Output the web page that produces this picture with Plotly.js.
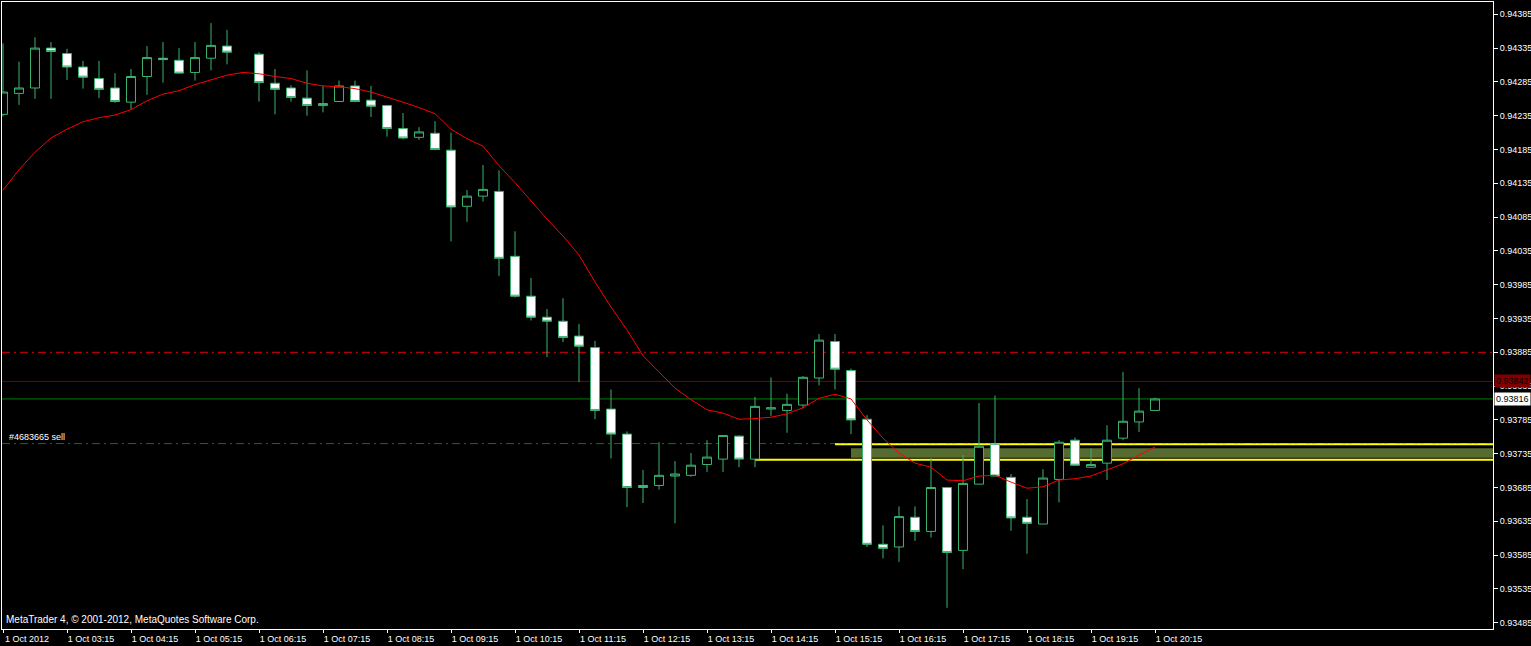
<!DOCTYPE html>
<html><head><meta charset="utf-8">
<script src="https://cdn.plot.ly/plotly-3.0.1.min.js"></script>
<style>html,body{margin:0;padding:0;background:#000;overflow:hidden}#chart{width:1531px;height:646px}</style>
</head><body><div id="chart"></div>
<script>
// ---- M15 bars, 1 Oct 2012 02:15 .. 20:15 (bar index 0..72); bar 15 not drawn ----
const openPrice = [0.94237,0.94268,0.94276,0.94335,0.94327,0.94307,0.94290,0.94276,0.94255,0.94293,
0.94320,0.94317,0.94299,0.94320,0.94338,null,0.94326,0.94283,0.94276,0.94261,
0.94250,0.94256,0.94279,0.94258,0.94250,0.94216,0.94203,0.94209,0.94184,0.94101,
0.94116,0.94123,0.94027,0.93968,0.93937,0.93931,0.93909,0.93892,0.93801,0.93764,
0.93688,0.93688,0.93702,0.93703,0.93719,0.93727,0.93761,0.93727,0.93801,0.93799,
0.93807,0.93847,0.93901,0.93858,0.93786,0.93601,0.93597,0.93641,0.93620,0.93685,
0.93592,0.93690,0.93749,0.93700,0.93641,0.93631,0.93697,0.93755,0.93715,0.93721,
0.93758,0.93782,0.93799];
const highPrice = [0.94342,0.94315,0.94351,0.94344,0.94334,0.94316,0.94316,0.94298,0.94304,0.94338,
0.94344,0.94335,0.94344,0.94372,0.94362,null,0.94329,0.94304,0.94280,0.94302,
0.94279,0.94287,0.94287,0.94279,0.94251,0.94239,0.94218,0.94227,0.94210,0.94125,
0.94162,0.94154,0.94064,0.93995,0.93949,0.93965,0.93927,0.93902,0.93830,0.93768,
0.93711,0.93752,0.93724,0.93736,0.93755,0.93762,0.93762,0.93819,0.93848,0.93824,
0.93850,0.93912,0.93912,0.93861,0.93792,0.93629,0.93657,0.93657,0.93729,0.93686,
0.93733,0.93810,0.93821,0.93705,0.93668,0.93712,0.93755,0.93759,0.93743,0.93777,
0.93856,0.93832,0.93818];
const lowPrice = [0.94234,0.94251,0.94260,0.94260,0.94288,0.94275,0.94261,0.94254,0.94245,0.94266,
0.94284,0.94297,0.94287,0.94302,0.94311,null,0.94256,0.94237,0.94256,0.94235,
0.94240,0.94256,0.94255,0.94233,0.94204,0.94200,0.94199,0.94184,0.94049,0.94078,
0.94108,0.93998,0.93966,0.93932,0.93878,0.93900,0.93841,0.93786,0.93728,0.93656,
0.93662,0.93682,0.93632,0.93701,0.93708,0.93708,0.93715,0.93715,0.93791,0.93766,
0.93802,0.93836,0.93830,0.93764,0.93597,0.93580,0.93575,0.93606,0.93611,0.93507,
0.93564,0.93690,0.93702,0.93621,0.93587,0.93631,0.93663,0.93718,0.93715,0.93696,
0.93755,0.93767,0.93799];
const closePrice = [0.94270,0.94276,0.94335,0.94330,0.94307,0.94292,0.94274,0.94256,0.94293,0.94321,
0.94318,0.94298,0.94321,0.94339,0.94329,null,0.94284,0.94274,0.94262,0.94250,
0.94253,0.94279,0.94256,0.94249,0.94216,0.94202,0.94211,0.94185,0.94100,0.94116,
0.94126,0.94024,0.93968,0.93937,0.93931,0.93907,0.93894,0.93799,0.93764,0.93685,
0.93685,0.93703,0.93705,0.93718,0.93730,0.93762,0.93727,0.93805,0.93803,0.93808,
0.93848,0.93903,0.93860,0.93785,0.93601,0.93595,0.93642,0.93620,0.93685,0.93589,
0.93691,0.93746,0.93702,0.93640,0.93632,0.93699,0.93752,0.93718,0.93719,0.93755,
0.93783,0.93798,0.93816];
// moving average (red line), one value per bar
const maValues = [0.94125,0.94155,0.94181,0.94202,0.94215,0.94226,0.94232,0.94236,0.94244,0.94257,
0.94267,0.94272,0.94281,0.94288,0.94295,0.94299,0.94297,0.94293,0.94290,0.94283,
0.94279,0.94278,0.94275,0.94270,0.94263,0.94255,0.94247,0.94238,0.94215,0.94201,
0.94190,0.94161,0.94136,0.94109,0.94082,0.94057,0.94029,0.93989,0.93952,0.93918,
0.93880,0.93856,0.93832,0.93815,0.93800,0.93795,0.93786,0.93787,0.93789,0.93794,
0.93803,0.93817,0.93823,0.93816,0.93785,0.93758,0.93736,0.93721,0.93715,0.93696,
0.93695,0.93702,0.93703,0.93693,0.93684,0.93686,0.93696,0.93698,0.93702,0.93711,
0.93720,0.93733,0.93745];
// time axis labels (every 4th bar)
const tickBars = [0,4,8,12,16,20,24,28,32,36,40,44,48,52,56,60,64,68,72];
const tickLabels = ['1 Oct 2012','1 Oct 03:15','1 Oct 04:15','1 Oct 05:15','1 Oct 06:15','1 Oct 07:15',
'1 Oct 08:15','1 Oct 09:15','1 Oct 10:15','1 Oct 11:15','1 Oct 12:15','1 Oct 13:15','1 Oct 14:15',
'1 Oct 15:15','1 Oct 16:15','1 Oct 17:15','1 Oct 18:15','1 Oct 19:15','1 Oct 20:15'];
// price axis ticks
const priceTicks = [0.93485,0.93535,0.93585,0.93635,0.93685,0.93735,0.93785,0.93835,0.93885,0.93935,
0.93985,0.94035,0.94085,0.94135,0.94185,0.94235,0.94285,0.94335,0.94385];
// horizontal levels
const levelTarget = 0.93885;   // red dash-dot
const levelAsk = 0.93842;      // dark red
const levelBid = 0.93816;      // green
const levelOrder = 0.93750;    // green dash-dot (#4683665 sell)
const orderLabel = '#4683665 sell';
const yellowUpper = 0.93749, yellowUpperFromBar = 52;
const yellowLower = 0.93726, yellowLowerFromBar = 47;
const zoneTop = 0.93743, zoneBottom = 0.93729, zoneFromBar = 53;
const copyright = 'MetaTrader 4, \u00a9 2001-2012, MetaQuotes Software Corp.';

const xRange = [-0.0625, 93.125];
const yRange = [0.934757, 0.944032];

const bars = [], o = [], h = [], l = [], c = [];
openPrice.forEach((v, i) => { if (v !== null) { bars.push(i); o.push(v); h.push(highPrice[i]); l.push(lowPrice[i]); c.push(closePrice[i]); } });
const maBars = maValues.map((v, i) => i);

const candleColor = '#3CB371';
const font = {family: 'Liberation Sans, Arial, sans-serif', size: 9, color: '#FFFFFF'};
const dashDot = '8px,4px,2px,4px';

const traces = [
  {type: 'candlestick', x: bars, open: o, high: h, low: l, close: c,
   increasing: {line: {color: candleColor, width: 1}, fillcolor: '#000000'},
   decreasing: {line: {color: candleColor, width: 1}, fillcolor: '#FFFFFF'},
   whiskerwidth: 0, hoverinfo: 'skip', showlegend: false},
  {type: 'scatter', mode: 'lines', x: maBars, y: maValues, line: {color: '#FF0000', width: 1},
   hoverinfo: 'skip', showlegend: false}
];

const shapes = [
  {type: 'line', xref: 'paper', x0: 0, x1: 1, yref: 'y', y0: levelTarget, y1: levelTarget, layer: 'below',
   line: {color: '#E00000', width: 1, dash: dashDot}},
  {type: 'line', xref: 'paper', x0: 0, x1: 1, yref: 'y', y0: levelAsk, y1: levelAsk, layer: 'below',
   line: {color: '#800000', width: 1}},
  {type: 'line', xref: 'paper', x0: 0, x1: 1, yref: 'y', y0: levelBid, y1: levelBid, layer: 'below',
   line: {color: '#008000', width: 1}},
  {type: 'line', xref: 'paper', x0: 0, x1: 1, yref: 'y', y0: levelOrder, y1: levelOrder, layer: 'below',
   line: {color: '#008000', width: 1, dash: dashDot}},
  {type: 'rect', xref: 'x', x0: zoneFromBar, x1: xRange[1], yref: 'y', y0: zoneBottom, y1: zoneTop, layer: 'below',
   fillcolor: '#556B2F', line: {width: 0}},
  {type: 'line', xref: 'x', x0: yellowUpperFromBar, x1: xRange[1], yref: 'y', y0: yellowUpper, y1: yellowUpper, layer: 'below',
   line: {color: '#FFFF00', width: 2}},
  {type: 'line', xref: 'x', x0: yellowLowerFromBar, x1: xRange[1], yref: 'y', y0: yellowLower, y1: yellowLower, layer: 'below',
   line: {color: '#FFFF00', width: 2}}
];

const annotations = [
  {xref: 'paper', yref: 'paper', x: 0, y: 0, xanchor: 'left', yanchor: 'bottom', xshift: 2, yshift: 2,
   text: copyright, showarrow: false, font: {family: font.family, size: 10, color: '#FFFFFF'}},
  {xref: 'paper', yref: 'y', x: 0, y: levelOrder, xanchor: 'left', yanchor: 'bottom', xshift: 5, yshift: 0,
   text: orderLabel, showarrow: false, font: font},
  {xref: 'paper', yref: 'y', x: 1, y: levelAsk, xanchor: 'left', yanchor: 'middle', xshift: 1,
   text: levelAsk.toFixed(5), showarrow: false, bgcolor: '#800000', borderpad: 1,
   font: {family: font.family, size: 9, color: '#000000'}},
  {xref: 'paper', yref: 'y', x: 1, y: levelBid, xanchor: 'left', yanchor: 'middle', xshift: 1,
   text: levelBid.toFixed(5), showarrow: false, bgcolor: '#FFFFFF', borderpad: 1,
   font: {family: font.family, size: 9, color: '#000000'}}
];

const layout = {
  width: 1531, height: 646,
  margin: {l: 2, r: 38, t: 2, b: 17, pad: 0},
  paper_bgcolor: '#000000', plot_bgcolor: '#000000',
  showlegend: false, hovermode: false, dragmode: false,
  boxgap: 0.44, boxgroupgap: 0,
  xaxis: {range: xRange, tickmode: 'array', tickvals: tickBars, ticktext: tickLabels,
    ticks: 'outside', ticklen: 3, tickcolor: '#FFFFFF', tickwidth: 1,
    showline: true, linecolor: '#FFFFFF', linewidth: 1, mirror: true,
    showgrid: false, zeroline: false, tickfont: font, ticklabelshift: 24, ticklabelstandoff: -2,
    rangeslider: {visible: false}, fixedrange: true},
  yaxis: {range: yRange, side: 'right', tickmode: 'array', tickvals: priceTicks, tickformat: '.5f',
    ticks: 'outside', ticklen: 4, tickcolor: '#FFFFFF', tickwidth: 1,
    showline: true, linecolor: '#FFFFFF', linewidth: 1, mirror: true,
    showgrid: false, zeroline: false, tickfont: font, fixedrange: true},
  shapes: shapes, annotations: annotations
};

Plotly.newPlot('chart', traces, layout, {displayModeBar: false, staticPlot: true});
</script></body></html>
